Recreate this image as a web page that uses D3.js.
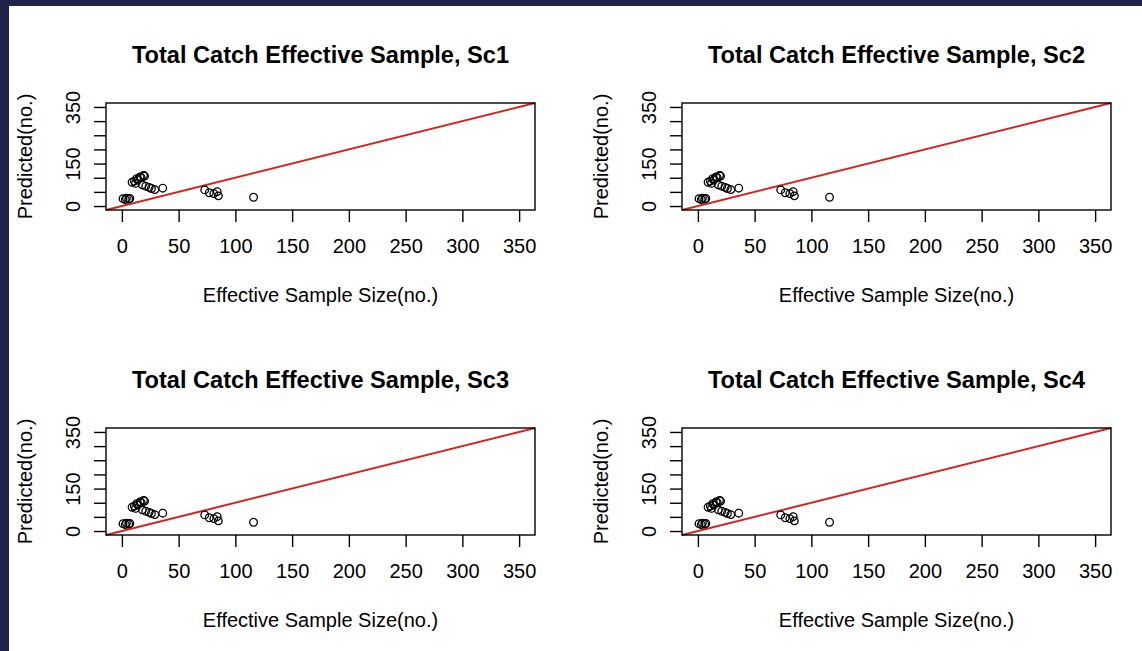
<!DOCTYPE html>
<html>
<head>
<meta charset="utf-8">
<style>
    body { margin: 0; background: #21234a; }
    svg { display: block; }
    text { font-family: "Liberation Sans", Arial, Helvetica, sans-serif; fill: #000; }
    .title { font-size: 23.6px; font-weight: bold; text-anchor: middle; }
    .lab { font-size: 20px; text-anchor: middle; }
    .tick text { font-size: 20px; }
</style>
</head>
<body>
<svg width="1142" height="651"></svg>
<script src="https://cdnjs.cloudflare.com/ajax/libs/d3/7.8.5/d3.min.js"></script>
<script>
// scenario names
var scenarios = ["Sc1", "Sc2", "Sc3", "Sc4"];

// observed effective sample size (x), same years in every scenario
var effN = [1, 3, 4, 6, 7, 9, 11, 12, 13, 14, 16, 17, 19, 20, 18, 21, 24, 26, 29, 36, 73, 77, 81, 84, 85, 116];

// predicted effective sample size (y), one list per scenario
var predSc1 = [26, 23, 28, 25, 27, 84, 88, 80, 97, 92, 103, 100, 108, 106, 75, 70, 66, 62, 58, 63, 57, 47, 44, 51, 36, 31];
var predSc2 = [26, 23, 28, 25, 27, 84, 88, 80, 97, 92, 103, 100, 108, 106, 75, 70, 66, 62, 58, 63, 57, 47, 44, 51, 36, 31];
var predSc3 = [26, 23, 28, 25, 27, 84, 88, 80, 97, 92, 103, 100, 108, 106, 75, 70, 66, 62, 58, 63, 57, 47, 44, 51, 36, 31];
var predSc4 = [26, 23, 28, 25, 27, 84, 88, 80, 97, 92, 103, 100, 108, 106, 75, 70, 66, 62, 58, 63, 57, 47, 44, 51, 36, 31];
var predicted = [predSc1, predSc2, predSc3, predSc4];

var xTicks = [0, 50, 100, 150, 200, 250, 300, 350];
var yTicks = [0, 50, 100, 150, 200, 250, 300, 350];
var yTickLabels = [0, 150, 350];
var lim = [0, 350];

var svg = d3.select("svg");

// white page inside the dark frame
svg.append("rect").attr("x", 9).attr("y", 6).attr("width", 1142 - 9).attr("height", 651 - 6).attr("fill", "#fff");

// panel boxes (2 x 2)
var colLeft = [106, 682], boxW = 429,
    rowTop = [103, 428], boxH = 107;

// R style 4% extension on each side
var ext = (lim[1] - lim[0]) * 0.04;

scenarios.forEach(function(sc, i) {
    var left = colLeft[i % 2], top = rowTop[Math.floor(i / 2)];
    var right = left + boxW, bottom = top + boxH;

    var x = d3.scaleLinear().domain([lim[0] - ext, lim[1] + ext]).range([left, right]);
    var y = d3.scaleLinear().domain([lim[0] - ext, lim[1] + ext]).range([bottom, top]);

    var g = svg.append("g");

    var pts = effN.map(function(d, j) { return { x: d, y: predicted[i][j] }; });

    // 1:1 line
    var dom = x.domain();
    g.append("line")
        .attr("x1", x(dom[0])).attr("y1", y(dom[0]))
        .attr("x2", x(dom[1])).attr("y2", y(dom[1]))
        .attr("stroke", "#d42424").attr("stroke-width", 2);

    g.selectAll("circle")
        .data(pts)
        .enter().append("circle")
        .attr("cx", function(d) { return x(d.x); })
        .attr("cy", function(d) { return y(d.y); })
        .attr("r", 3.8)
        .attr("fill", "none")
        .attr("stroke", "#000")
        .attr("stroke-width", 1.3);

    g.append("rect")
        .attr("x", left).attr("y", top)
        .attr("width", boxW).attr("height", boxH)
        .attr("fill", "none").attr("stroke", "#000").attr("stroke-width", 1.4);

    var xa = g.append("g")
        .attr("transform", "translate(0," + bottom + ")")
        .call(d3.axisBottom(x).tickValues(xTicks).tickSize(12).tickPadding(17));
    xa.select(".domain").remove();

    var ya = g.append("g")
        .attr("transform", "translate(" + left + ",0)")
        .call(d3.axisLeft(y).tickValues(yTicks).tickSize(12)
            .tickFormat(function(d) { return yTickLabels.indexOf(d) >= 0 ? d : ""; }));
    ya.select(".domain").remove();
    ya.selectAll(".tick text")
        .attr("x", 0).attr("dy", 0)
        .attr("text-anchor", "middle")
        .attr("transform", "translate(-26,0) rotate(-90)");

    g.selectAll(".tick line").attr("stroke", "#000").attr("stroke-width", 1.4);
    g.selectAll(".tick text").attr("fill", "#000").attr("font-family", null).attr("font-size", null);

    g.append("text").attr("class", "title")
        .attr("x", (left + right) / 2).attr("y", top - 40)
        .text("Total Catch Effective Sample, " + sc);

    g.append("text").attr("class", "lab")
        .attr("x", (left + right) / 2).attr("y", bottom + 91.5)
        .text("Effective Sample Size(no.)");

    g.append("text").attr("class", "lab")
        .attr("transform", "translate(" + (left - 74) + "," + ((top + bottom) / 2) + ") rotate(-90)")
        .text("Predicted(no.)");
});
</script>
</body>
</html>
